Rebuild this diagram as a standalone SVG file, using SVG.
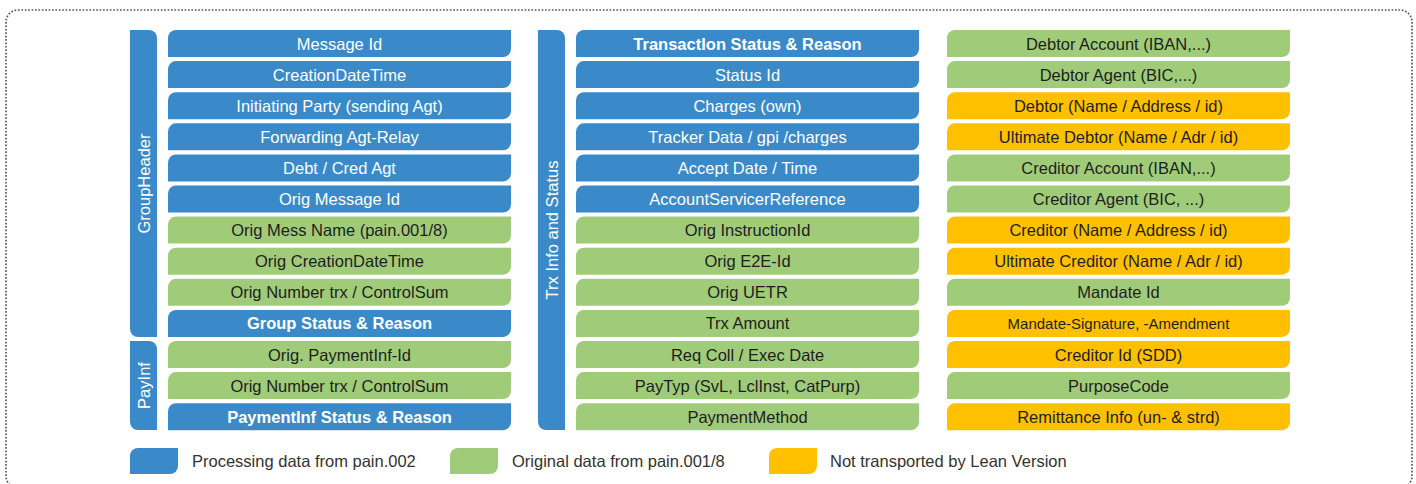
<svg xmlns="http://www.w3.org/2000/svg" width="1416" height="484" viewBox="0 0 1416 484">
<style>
.b{fill:#3a8ac9}
.g{fill:#a0cb78}
.y{fill:#ffc000}
text{font-family:"Liberation Sans",Arial,sans-serif;font-size:16.5px;text-anchor:middle}
.tw{fill:#ffffff}
.td{fill:#1e1e1e}
.bold{font-weight:bold}
.lg{fill:#333333;text-anchor:start;font-size:16.5px}
.side{fill:#ffffff;font-size:16.5px}
</style>
<rect x="6" y="10" width="1406" height="478" rx="12" fill="none" stroke="#5a5a5a" stroke-width="1.7" stroke-dasharray="1.7 1.7"/>
<g id="side-bars">
<g id="bar-groupheader"><path class="b" d="M130,30 H149 A8,8 0 0 1 157,38 V337 H138 A8,8 0 0 1 130,329 Z"/><text class="side" transform="translate(149.5,183.5) rotate(-90)">GroupHeader</text></g>
<g id="bar-payinf"><path class="b" d="M130,341 H149 A8,8 0 0 1 157,349 V430 H138 A8,8 0 0 1 130,422 Z"/><text class="side" transform="translate(149.5,385.5) rotate(-90)">PayInf</text></g>
<g id="bar-trx"><path class="b" d="M538,30 H557 A8,8 0 0 1 565,38 V430 H546 A8,8 0 0 1 538,422 Z"/><text class="side" transform="translate(557.5,230) rotate(-90)">Trx Info and Status</text></g>
</g>
<defs>
<path id="leaf" d="M8,0 H343 V19 A8,8 0 0 1 335,27 H0 V8 A8,8 0 0 1 8,0 Z"/>
<path id="sw" d="M8,0 H48 V18 A8,8 0 0 1 40,26 H0 V8 A8,8 0 0 1 8,0 Z"/>
</defs>
<g id="col-left">
<g id="l0" transform="translate(168,30)"><use href="#leaf" class="b"/><text class="tw" x="171.5" y="19.5">Message Id</text></g>
<g id="l1" transform="translate(168,61.1)"><use href="#leaf" class="b"/><text class="tw" x="171.5" y="19.5">CreationDateTime</text></g>
<g id="l2" transform="translate(168,92.2)"><use href="#leaf" class="b"/><text class="tw" x="171.5" y="19.5">Initiating Party (sending Agt)</text></g>
<g id="l3" transform="translate(168,123.3)"><use href="#leaf" class="b"/><text class="tw" x="171.5" y="19.5">Forwarding Agt-Relay</text></g>
<g id="l4" transform="translate(168,154.4)"><use href="#leaf" class="b"/><text class="tw" x="171.5" y="19.5">Debt / Cred Agt</text></g>
<g id="l5" transform="translate(168,185.5)"><use href="#leaf" class="b"/><text class="tw" x="171.5" y="19.5">Orig Message Id</text></g>
<g id="l6" transform="translate(168,216.6)"><use href="#leaf" class="g"/><text class="td" x="171.5" y="19.5">Orig Mess Name (pain.001/8)</text></g>
<g id="l7" transform="translate(168,247.7)"><use href="#leaf" class="g"/><text class="td" x="171.5" y="19.5">Orig CreationDateTime</text></g>
<g id="l8" transform="translate(168,278.8)"><use href="#leaf" class="g"/><text class="td" x="171.5" y="19.5">Orig Number trx / ControlSum</text></g>
<g id="l9" transform="translate(168,309.9)"><use href="#leaf" class="b"/><text class="tw bold" x="171.5" y="19.5">Group Status &amp; Reason</text></g>
<g id="l10" transform="translate(168,341)"><use href="#leaf" class="g"/><text class="td" x="171.5" y="19.5">Orig. PaymentInf-Id</text></g>
<g id="l11" transform="translate(168,372.1)"><use href="#leaf" class="g"/><text class="td" x="171.5" y="19.5">Orig Number trx / ControlSum</text></g>
<g id="l12" transform="translate(168,403.2)"><use href="#leaf" class="b"/><text class="tw bold" x="171.5" y="19.5">PaymentInf Status &amp; Reason</text></g>
</g>
<g id="col-mid">
<g id="m0" transform="translate(576,30)"><use href="#leaf" class="b"/><text class="tw bold" x="171.5" y="19.5">TransactIon Status &amp; Reason</text></g>
<g id="m1" transform="translate(576,61.1)"><use href="#leaf" class="b"/><text class="tw" x="171.5" y="19.5">Status Id</text></g>
<g id="m2" transform="translate(576,92.2)"><use href="#leaf" class="b"/><text class="tw" x="171.5" y="19.5">Charges (own)</text></g>
<g id="m3" transform="translate(576,123.3)"><use href="#leaf" class="b"/><text class="tw" x="171.5" y="19.5">Tracker Data / gpi /charges</text></g>
<g id="m4" transform="translate(576,154.4)"><use href="#leaf" class="b"/><text class="tw" x="171.5" y="19.5">Accept Date / Time</text></g>
<g id="m5" transform="translate(576,185.5)"><use href="#leaf" class="b"/><text class="tw" x="171.5" y="19.5">AccountServicerReference</text></g>
<g id="m6" transform="translate(576,216.6)"><use href="#leaf" class="g"/><text class="td" x="171.5" y="19.5">Orig InstructionId</text></g>
<g id="m7" transform="translate(576,247.7)"><use href="#leaf" class="g"/><text class="td" x="171.5" y="19.5">Orig E2E-Id</text></g>
<g id="m8" transform="translate(576,278.8)"><use href="#leaf" class="g"/><text class="td" x="171.5" y="19.5">Orig UETR</text></g>
<g id="m9" transform="translate(576,309.9)"><use href="#leaf" class="g"/><text class="td" x="171.5" y="19.5">Trx Amount</text></g>
<g id="m10" transform="translate(576,341)"><use href="#leaf" class="g"/><text class="td" x="171.5" y="19.5">Req Coll / Exec Date</text></g>
<g id="m11" transform="translate(576,372.1)"><use href="#leaf" class="g"/><text class="td" x="171.5" y="19.5">PayTyp (SvL, LclInst, CatPurp)</text></g>
<g id="m12" transform="translate(576,403.2)"><use href="#leaf" class="g"/><text class="td" x="171.5" y="19.5">PaymentMethod</text></g>
</g>
<g id="col-right">
<g id="r0" transform="translate(947,30)"><use href="#leaf" class="g"/><text class="td" x="171.5" y="19.5">Debtor Account (IBAN,...)</text></g>
<g id="r1" transform="translate(947,61.1)"><use href="#leaf" class="g"/><text class="td" x="171.5" y="19.5">Debtor Agent (BIC,...)</text></g>
<g id="r2" transform="translate(947,92.2)"><use href="#leaf" class="y"/><text class="td" x="171.5" y="19.5">Debtor (Name / Address / id)</text></g>
<g id="r3" transform="translate(947,123.3)"><use href="#leaf" class="y"/><text class="td" x="171.5" y="19.5">Ultimate Debtor (Name / Adr / id)</text></g>
<g id="r4" transform="translate(947,154.4)"><use href="#leaf" class="g"/><text class="td" x="171.5" y="19.5">Creditor Account (IBAN,...)</text></g>
<g id="r5" transform="translate(947,185.5)"><use href="#leaf" class="g"/><text class="td" x="171.5" y="19.5">Creditor Agent (BIC, ...)</text></g>
<g id="r6" transform="translate(947,216.6)"><use href="#leaf" class="y"/><text class="td" x="171.5" y="19.5">Creditor (Name / Address / id)</text></g>
<g id="r7" transform="translate(947,247.7)"><use href="#leaf" class="y"/><text class="td" x="171.5" y="19.5">Ultimate Creditor (Name / Adr / id)</text></g>
<g id="r8" transform="translate(947,278.8)"><use href="#leaf" class="g"/><text class="td" x="171.5" y="19.5">Mandate Id</text></g>
<g id="r9" transform="translate(947,309.9)"><use href="#leaf" class="y"/><text class="td" x="171.5" y="19" style="font-size:15px">Mandate-Signature, -Amendment</text></g>
<g id="r10" transform="translate(947,341)"><use href="#leaf" class="y"/><text class="td" x="171.5" y="19.5">Creditor Id (SDD)</text></g>
<g id="r11" transform="translate(947,372.1)"><use href="#leaf" class="g"/><text class="td" x="171.5" y="19.5">PurposeCode</text></g>
<g id="r12" transform="translate(947,403.2)"><use href="#leaf" class="y"/><text class="td" x="171.5" y="19.5">Remittance Info (un- &amp; strd)</text></g>
</g>
<g id="legend">
<g id="leg-blue" transform="translate(130,448)"><use href="#sw" class="b"/><text class="lg" x="62" y="19">Processing data from pain.002</text></g>
<g id="leg-green" transform="translate(450,448)"><use href="#sw" class="g"/><text class="lg" x="62" y="19">Original data from pain.001/8</text></g>
<g id="leg-yellow" transform="translate(769,448)"><use href="#sw" class="y"/><text class="lg" x="61" y="19">Not transported by Lean Version</text></g>
</g>
<g id="connectors"/>
</svg>
